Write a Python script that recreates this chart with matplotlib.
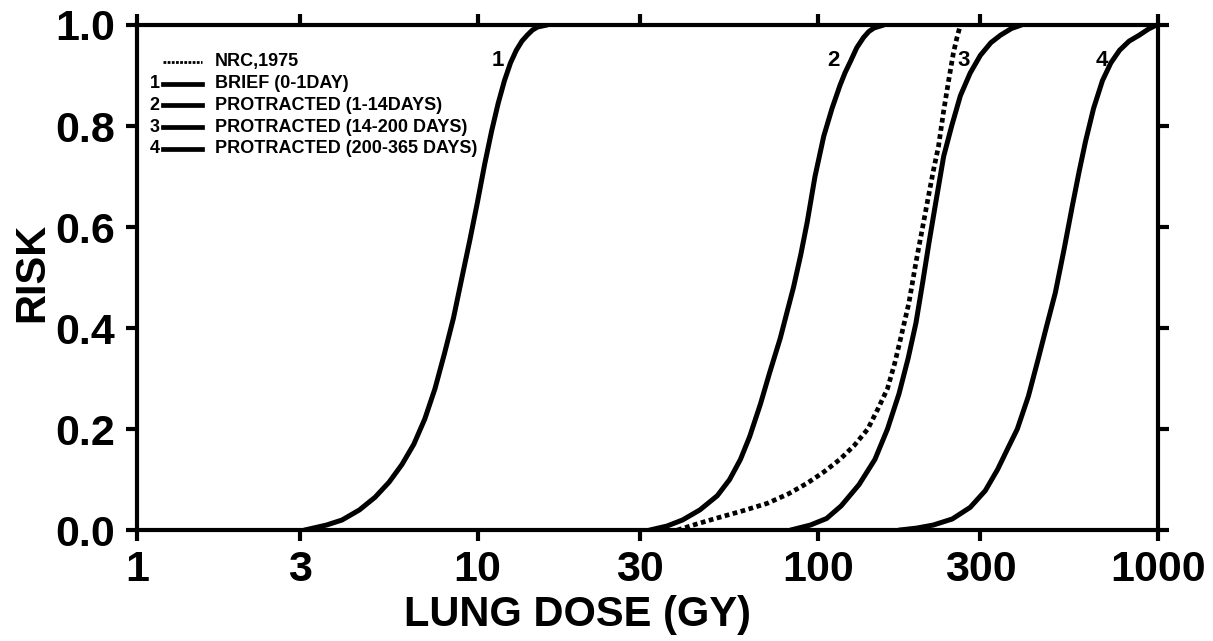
import numpy as np
import matplotlib.pyplot as plt
from matplotlib.lines import Line2D

# values (dose in Gy, risk 0-1)
dose_1 = [3.1, 3.6, 4.0, 4.5, 5.0, 5.5, 6.0, 6.5, 7.0, 7.5, 8.0, 8.5, 9.0, 9.5, 10.0, 10.5, 11.0, 11.5, 12.0, 12.5, 13.0, 13.5, 14.0, 14.5, 15.0, 16.0]
risk_1 = [0.0, 0.01, 0.02, 0.04, 0.065, 0.095, 0.13, 0.17, 0.22, 0.28, 0.35, 0.42, 0.50, 0.575, 0.65, 0.725, 0.79, 0.845, 0.89, 0.925, 0.95, 0.968, 0.98, 0.99, 0.996, 1.0]

dose_2 = [32, 36, 40, 45, 50.6, 55, 59.2, 63, 67.8, 72, 77.5, 81, 84.7, 89, 93, 98, 104, 110, 116, 120, 125, 130, 136, 141, 146, 156]
risk_2 = [0.0, 0.008, 0.02, 0.04, 0.068, 0.10, 0.14, 0.185, 0.25, 0.31, 0.38, 0.43, 0.48, 0.545, 0.61, 0.70, 0.78, 0.835, 0.88, 0.905, 0.93, 0.955, 0.975, 0.987, 0.994, 1.0]

dose_nrc = [38.6, 44, 50.6, 60, 71, 82, 93, 104, 116, 128, 140, 150, 160, 168, 175, 185, 194, 203, 211, 218, 226, 234, 242, 250, 256, 262]
risk_nrc = [0.0, 0.012, 0.024, 0.038, 0.053, 0.072, 0.093, 0.115, 0.14, 0.168, 0.20, 0.24, 0.28, 0.33, 0.38, 0.45, 0.53, 0.60, 0.66, 0.71, 0.76, 0.83, 0.89, 0.945, 0.975, 1.0]

dose_3 = [83, 95, 106, 117, 132, 147, 160, 173, 184, 194, 203, 212, 222, 234, 247, 262, 280, 300, 322, 344, 370, 396]
risk_3 = [0.0, 0.01, 0.023, 0.048, 0.09, 0.14, 0.20, 0.27, 0.34, 0.41, 0.49, 0.57, 0.65, 0.74, 0.80, 0.86, 0.905, 0.94, 0.965, 0.98, 0.993, 1.0]

dose_4 = [173, 195, 218, 248, 280, 310, 337, 360, 385, 415, 444, 470, 498, 528, 558, 585, 611, 645, 685, 725, 769, 820, 879, 935, 987]
risk_4 = [0.0, 0.004, 0.01, 0.022, 0.045, 0.078, 0.12, 0.16, 0.20, 0.265, 0.34, 0.405, 0.47, 0.555, 0.64, 0.71, 0.77, 0.835, 0.89, 0.925, 0.95, 0.968, 0.98, 0.992, 1.0]

curve_labels = ['1', '2', '3', '4']
label_x = [12.0, 116, 279, 712]
label_y = [0.93, 0.93, 0.93, 0.93]

x_ticks = [1, 3, 10, 30, 100, 300, 1000]
y_ticks = [0.0, 0.2, 0.4, 0.6, 0.8, 1.0]

legend_texts = ['NRC,1975', 'BRIEF (0-1DAY)', 'PROTRACTED (1-14DAYS)',
                'PROTRACTED (14-200 DAYS)', 'PROTRACTED (200-365 DAYS)']
legend_nums = ['', '1', '2', '3', '4']

plt.rcParams['font.family'] = ['Liberation Sans', 'DejaVu Sans']
plt.rcParams['font.weight'] = 'bold'
narrow = ['Liberation Sans Narrow', 'Liberation Sans', 'DejaVu Sans']

fig = plt.figure(figsize=(12.13, 6.41), dpi=100)
ax = fig.add_axes([0.113, 0.173, 0.842, 0.788])

lw = 3.6
ax.plot(dose_1, risk_1, color='black', lw=lw, solid_capstyle='round')
ax.plot(dose_2, risk_2, color='black', lw=lw, solid_capstyle='round')
ax.plot(dose_3, risk_3, color='black', lw=lw, solid_capstyle='round')
ax.plot(dose_4, risk_4, color='black', lw=lw, solid_capstyle='round')
ax.plot(dose_nrc, risk_nrc, color='black', lw=3.4, linestyle=(0, (1, 0.75)))

for t, xx, yy in zip(curve_labels, label_x, label_y):
    ax.text(xx, yy, t, fontsize=16, fontweight='bold', ha='right', va='center')

ax.set_xscale('log')
ax.set_xlim(1, 1000)
ax.set_ylim(0, 1)
ax.set_xticks(x_ticks)
ax.set_xticklabels([str(v) for v in x_ticks])
ax.minorticks_off()
ax.set_yticks(y_ticks)
ax.set_yticklabels(['%.1f' % v for v in y_ticks])
ax.tick_params(axis='both', which='major', direction='out', length=8, width=3,
               labelsize=31, top=True, right=True)
ax.tick_params(axis='x', pad=6)
ax.tick_params(axis='y', pad=8)
for s in ax.spines.values():
    s.set_linewidth(3)
ax.set_xlabel('LUNG DOSE (GY)', fontsize=30, fontweight='bold', va='center')
ax.xaxis.set_label_coords(0.431, -0.168)
ax.set_ylabel('RISK', fontsize=30, fontweight='bold', va='center', family=narrow)
ax.yaxis.set_label_coords(-0.103, 0.511)

# legend drawn by hand as in the original
for i, (num, txt) in enumerate(zip(legend_nums, legend_texts)):
    yy = 0.927 - i * 0.043
    if i == 0:
        ax.add_line(Line2D([0.025, 0.064], [yy, yy], transform=ax.transAxes,
                           color='black', lw=2.0, linestyle=(0, (1, 0.5))))
    else:
        ax.add_line(Line2D([0.025, 0.064], [yy, yy], transform=ax.transAxes,
                           color='black', lw=3.4))
        ax.text(0.022, yy, num, transform=ax.transAxes, fontsize=13,
                fontweight='bold', ha='right', va='center')
    ax.text(0.076, yy, txt, transform=ax.transAxes, fontsize=13,
            fontweight='bold', ha='left', va='center', family=narrow)

fig.savefig('out.png', dpi=100)
